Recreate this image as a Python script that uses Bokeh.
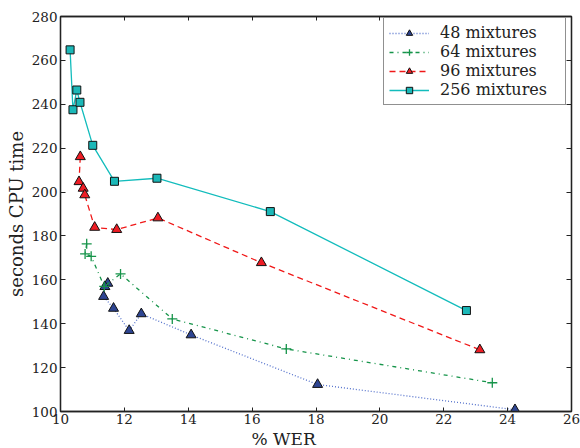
from bokeh.plotting import figure
from bokeh.models import Legend, LegendItem, LinearAxis, Title, FixedTicker
from bokeh.embed import file_html
from bokeh.resources import INLINE

# ---- data ----
wer_48 = [11.48, 11.39, 11.35, 11.66, 12.15, 12.53, 14.09, 18.05, 24.23]
cpu_48 = [158.4, 156.9, 152.4, 147.0, 136.9, 144.5, 134.9, 112.3, 100.8]

wer_64 = [10.82, 10.77, 10.96, 11.37, 11.88, 13.50, 17.07, 23.52]
cpu_64 = [176.4, 171.8, 170.7, 157.0, 162.7, 142.2, 128.5, 113.1]

wer_96 = [10.62, 10.58, 10.71, 10.76, 11.07, 11.76, 13.05, 16.29, 23.13]
cpu_96 = [216.1, 204.7, 201.7, 198.7, 183.9, 182.9, 188.2, 167.8, 128.1]

wer_256 = [10.30, 10.39, 10.51, 10.61, 11.01, 11.69, 13.02, 16.57, 22.71]
cpu_256 = [264.8, 237.5, 246.5, 240.9, 221.3, 204.9, 206.3, 191.1, 146.0]

x_ticks = [10, 12, 14, 16, 18, 20, 22, 24, 26]
y_ticks = [100, 120, 140, 160, 180, 200, 220, 240, 260, 280]

FONT = "DejaVu Serif"
TXT = "#222222"

p = figure(width=580, height=448, x_range=(10, 26), y_range=(100, 280),
           output_backend="svg", toolbar_location=None,
           min_border_left=60, min_border_top=16, min_border_bottom=37,
           min_border_right=9)
p.grid.visible = False
p.outline_line_color = "#222222"
p.outline_line_width = 1.3

def style_axis(ax, ticks, show_labels, tick_len):
    ax.ticker = FixedTicker(ticks=ticks)
    ax.major_tick_in = tick_len
    ax.major_tick_out = 0
    ax.minor_tick_line_color = None
    ax.axis_line_color = "#222222"
    ax.axis_line_width = 1.3
    ax.major_tick_line_color = "#222222"
    ax.major_tick_line_width = 1
    ax.major_label_text_font = FONT
    ax.major_label_text_color = TXT
    if show_labels:
        ax.major_label_text_font_size = "13.5px"
        ax.major_label_standoff = 2
    else:
        ax.major_label_text_font_size = "0px"
        ax.major_label_standoff = 0

style_axis(p.xaxis[0], x_ticks, True, 4)
style_axis(p.yaxis[0], y_ticks, True, 5)
p.yaxis[0].major_label_standoff = 3
p.yaxis[0].axis_label = "seconds CPU time"
p.yaxis[0].axis_label_text_font = FONT
p.yaxis[0].axis_label_text_font_size = "18px"
p.yaxis[0].axis_label_text_font_style = "normal"
p.yaxis[0].axis_label_text_color = TXT
p.yaxis[0].axis_label_standoff = 2

top = LinearAxis()
right = LinearAxis()
style_axis(top, x_ticks, False, 4)
style_axis(right, y_ticks, False, 5)
p.add_layout(top, "above")
p.add_layout(right, "right")

# ---- series ----
c64, c96, c256 = "#16944a", "#f01818", "#12bcbc"

l48 = p.line(wer_48, cpu_48, line_color="#5572cc", line_width=1.3, line_dash="1 2")
s48 = p.scatter(wer_48, cpu_48, marker="triangle", size=10, fill_color="#2e4592",
                line_color="#111111", line_width=1)

l64 = p.line(wer_64, cpu_64, line_color=c64, line_width=1.3, line_dash="4 4 1 4")
s64 = p.scatter(wer_64, cpu_64, marker="cross", size=10, line_color=c64, line_width=1.3)

l96 = p.line(wer_96, cpu_96, line_color=c96, line_width=1.3, line_dash="6 4")
s96 = p.scatter(wer_96, cpu_96, marker="triangle", size=10, fill_color="#ee1c24",
                line_color="#111111", line_width=1)

l256 = p.line(wer_256, cpu_256, line_color=c256, line_width=1.3)
s256 = p.scatter(wer_256, cpu_256, marker="square", size=8, fill_color="#1bb8b8",
                 line_color="#111111", line_width=1)

legend = Legend(items=[
    LegendItem(label="48 mixtures", renderers=[l48, s48]),
    LegendItem(label="64 mixtures", renderers=[l64, s64]),
    LegendItem(label="96 mixtures", renderers=[l96, s96]),
    LegendItem(label="256 mixtures", renderers=[l256, s256]),
], location=(323, 306))
legend.label_text_font = FONT
legend.label_text_font_size = "16px"
legend.label_text_color = TXT
legend.border_line_color = "#222222"
legend.border_line_width = 1
legend.background_fill_alpha = 1
legend.padding = 5
legend.spacing = -2
legend.margin = 0
legend.glyph_width = 40
legend.glyph_height = 16
legend.label_height = 16
legend.label_width = 120
legend.label_standoff = 11
p.add_layout(legend)

# ---- x axis title (sits left of centre in the reference) ----
xtitle = Title(text="% WER", align="left", offset=191, standoff=0,
               text_font=FONT, text_font_size="17px", text_font_style="normal",
               text_color=TXT)
p.add_layout(xtitle, "below")

open("out.html", "w").write(file_html(p, INLINE))
